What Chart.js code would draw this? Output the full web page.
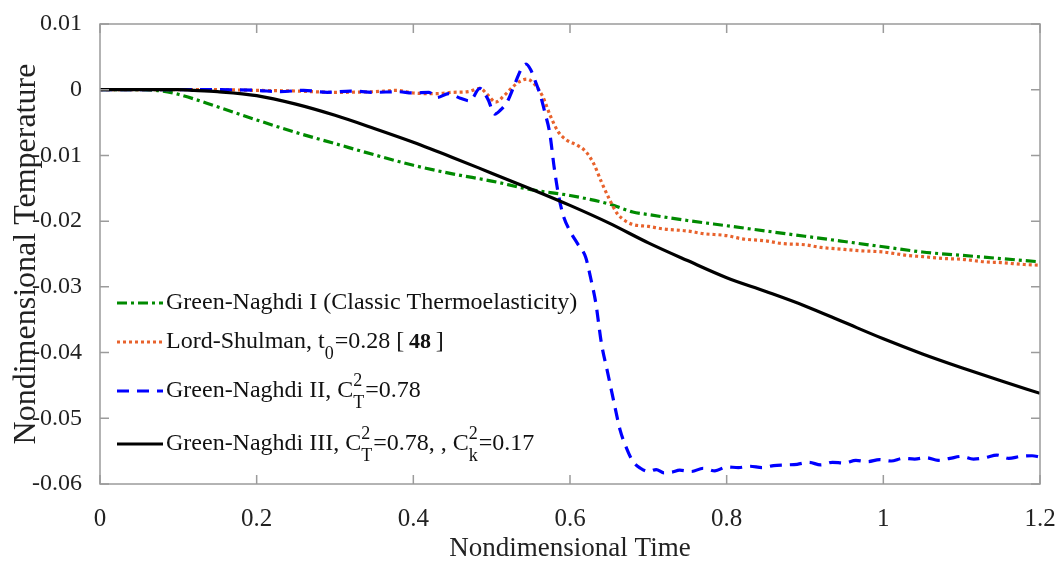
<!DOCTYPE html>
<html>
<head>
<meta charset="utf-8">
<title>Nondimensional Temperature</title>
<script src="https://cdn.jsdelivr.net/npm/chart.js@4"></script>
<style>
  body { margin: 0; background: #fff; }
  #wrap { width: 1058px; height: 563px; position: relative; }
</style>
</head>
<body>
<div id="wrap"><canvas id="tempChart"></canvas></div>
<script>
// Green-Naghdi I (classic thermoelasticity)
const tGreen = [0, 0.05, 0.08, 0.1, 0.15, 0.2, 0.25, 0.3, 0.35, 0.4, 0.45, 0.5, 0.55, 0.6, 0.65, 0.68, 0.7, 0.75, 0.8, 0.85, 0.9, 0.95, 1.0, 1.05, 1.1, 1.15, 1.2];
const vGreen = [0, 0, -0.0002, -0.0007, -0.0026, -0.0046, -0.0065, -0.0082, -0.0099, -0.0115, -0.0128, -0.0139, -0.0152, -0.0161, -0.0174, -0.0186, -0.019, -0.0199, -0.0207, -0.0215, -0.0223, -0.0231, -0.0239, -0.0247, -0.0252, -0.0257, -0.0262];

// Lord-Shulman
const tLS = [0, 0.1, 0.15, 0.2, 0.25, 0.3, 0.35, 0.38, 0.4, 0.43, 0.45, 0.47, 0.485, 0.495, 0.505, 0.515, 0.525, 0.535, 0.545, 0.555, 0.565, 0.575, 0.585, 0.595, 0.61, 0.62, 0.63, 0.64, 0.65, 0.66, 0.67, 0.68, 0.7, 0.72, 0.75, 0.77, 0.8, 0.82, 0.85, 0.87, 0.9, 0.92, 0.95, 0.97, 1.0, 1.03, 1.05, 1.08, 1.1, 1.13, 1.15, 1.18, 1.2];
const vLS = [0, 0, 0, -0.0001, -0.0002, -0.0004, -0.0003, -0.0001, -0.0005, -0.0006, -0.0004, -0.0003, 0.0002, -0.0008, -0.0019, -0.001, 0.0002, 0.0012, 0.0016, 0.0008, -0.001, -0.004, -0.0064, -0.0076, -0.0085, -0.0094, -0.0112, -0.014, -0.0166, -0.0188, -0.0199, -0.0205, -0.0208, -0.0212, -0.0215, -0.0219, -0.0222, -0.0227, -0.023, -0.0234, -0.0236, -0.024, -0.0243, -0.0245, -0.0247, -0.0252, -0.0254, -0.0257, -0.0258, -0.0262, -0.0263, -0.0266, -0.0267];

// Green-Naghdi II
const tGN2 = [0, 0.1, 0.15, 0.2, 0.23, 0.26, 0.29, 0.32, 0.35, 0.38, 0.4, 0.42, 0.43, 0.445, 0.46, 0.472, 0.485, 0.495, 0.504, 0.512, 0.52, 0.53, 0.538, 0.544, 0.55, 0.556, 0.562, 0.568, 0.574, 0.58, 0.585, 0.591, 0.6, 0.61, 0.62, 0.627, 0.633, 0.64, 0.648, 0.656, 0.664, 0.672, 0.68, 0.69, 0.7, 0.71, 0.72, 0.73, 0.74, 0.755, 0.77, 0.785, 0.8, 0.815, 0.83, 0.845, 0.86, 0.875, 0.89, 0.905, 0.92, 0.935, 0.95, 0.965, 0.98, 0.995, 1.01, 1.025, 1.04, 1.055, 1.07, 1.085, 1.1, 1.115, 1.13, 1.145, 1.16, 1.175, 1.19, 1.2];
const vGN2 = [0, 0, 0, -0.0001, -0.0003, -0.0001, -0.0004, -0.0002, -0.0004, -0.0003, -0.0005, -0.0004, -0.0012, -0.0006, -0.0013, -0.0017, 0.0002, -0.0014, -0.0037, -0.003, -0.0018, 0.001, 0.0032, 0.0039, 0.003, 0.0012, -0.0008, -0.0035, -0.0065, -0.012, -0.0158, -0.019, -0.0215, -0.0235, -0.0255, -0.029, -0.0325, -0.0385, -0.043, -0.0475, -0.0518, -0.0545, -0.0565, -0.0576, -0.0581, -0.0578, -0.0583, -0.0582, -0.0579, -0.0581, -0.0576, -0.058, -0.0574, -0.0575, -0.0573, -0.0575, -0.0572, -0.0571, -0.057, -0.0567, -0.0571, -0.0567, -0.0568, -0.0564, -0.0566, -0.0563, -0.0565, -0.0561, -0.0562, -0.056, -0.0564, -0.0561, -0.0558, -0.0562, -0.056, -0.0556, -0.0561, -0.0558, -0.0557, -0.0559];

// Green-Naghdi III
const tGN3 = [0, 0.1, 0.12, 0.15, 0.2, 0.25, 0.3, 0.35, 0.4, 0.45, 0.5, 0.55, 0.6, 0.65, 0.7, 0.75, 0.8, 0.85, 0.9, 0.95, 1.0, 1.05, 1.1, 1.15, 1.2];
const vGN3 = [0, 0, -0.0001, -0.0003, -0.0009, -0.0022, -0.0039, -0.0059, -0.008, -0.0103, -0.0127, -0.0151, -0.0176, -0.0203, -0.0233, -0.026, -0.0286, -0.0307, -0.0329, -0.0354, -0.0379, -0.0402, -0.0423, -0.0443, -0.0462];

const xTicks = [0, 0.2, 0.4, 0.6, 0.8, 1, 1.2];
const yTicks = [0.01, 0, -0.01, -0.02, -0.03, -0.04, -0.05, -0.06];

const SERIF = "'Liberation Serif', 'Times New Roman', serif";
const FRAME = "#9b9b9b";

function pts(ts, vs) {
  return ts.map((t, i) => ({ x: t, y: vs[i] }));
}

// legend rows: plain text, {sub}, {sup, sub} stacked, {bold}
const legendRows = [
  { ds: 0, parts: [{ text: "Green-Naghdi I (Classic Thermoelasticity)" }] },
  { ds: 1, parts: [{ text: "Lord-Shulman, t" }, { sub: "0" }, { text: "=0.28 [\u2009" }, { bold: "48" }, { text: "\u2009]" }] },
  { ds: 2, parts: [{ text: "Green-Naghdi II, C" }, { sup: "2", sub: "T" }, { text: "=0.78" }] },
  { ds: 3, parts: [{ text: "Green-Naghdi III, C" }, { sup: "2", sub: "T" }, { text: "=0.78, , C" }, { sup: "2", sub: "k" }, { text: "=0.17" }] },
];
const legendY = [303, 342, 391, 444];

const frameTicks = {
  id: "frameTicks",
  afterDatasetsDraw(chart) {
    const { ctx, chartArea: a, scales } = chart;
    ctx.save();
    ctx.strokeStyle = FRAME;
    ctx.lineWidth = 1.5;
    ctx.strokeRect(a.left, a.top, a.right - a.left, a.bottom - a.top);
    ctx.beginPath();
    xTicks.forEach((v) => {
      const x = scales.x.getPixelForValue(v);
      ctx.moveTo(x, a.bottom); ctx.lineTo(x, a.bottom - 9);
      ctx.moveTo(x, a.top); ctx.lineTo(x, a.top + 9);
    });
    yTicks.forEach((v) => {
      const y = scales.y.getPixelForValue(v);
      ctx.moveTo(a.left, y); ctx.lineTo(a.left + 9, y);
      ctx.moveTo(a.right, y); ctx.lineTo(a.right - 9, y);
    });
    ctx.stroke();
    ctx.restore();
  },
};

const mathLegend = {
  id: "mathLegend",
  afterDraw(chart) {
    const ctx = chart.ctx;
    ctx.save();
    legendRows.forEach((row, i) => {
      const ds = chart.data.datasets[row.ds];
      const y = legendY[i];
      ctx.strokeStyle = ds.borderColor;
      ctx.lineWidth = ds.borderWidth;
      ctx.setLineDash(ds.borderDash || []);
      ctx.beginPath();
      ctx.moveTo(117, y);
      ctx.lineTo(163, y);
      ctx.stroke();
      ctx.setLineDash([]);

      let x = 166;
      ctx.fillStyle = "#111";
      ctx.textBaseline = "middle";
      row.parts.forEach((p) => {
        if (p.text) {
          ctx.font = "24px " + SERIF;
          ctx.fillText(p.text, x, y);
          x += ctx.measureText(p.text).width;
        } else if (p.bold) {
          ctx.font = "bold 22px " + SERIF;
          ctx.fillText(p.bold, x, y);
          x += ctx.measureText(p.bold).width;
        } else {
          ctx.font = "18px " + SERIF;
          let w = 0;
          if (p.sup) {
            ctx.fillText(p.sup, x, y - 10);
            w = ctx.measureText(p.sup).width;
          }
          if (p.sub) {
            ctx.fillText(p.sub, x, y + 12);
            w = Math.max(w, ctx.measureText(p.sub).width);
          }
          x += w + 1;
        }
      });
    });
    ctx.restore();
  },
};

new Chart(document.getElementById("tempChart"), {
  type: "line",
  data: {
    datasets: [
      {
        label: "Green-Naghdi I (Classic Thermoelasticity)",
        data: pts(tGreen, vGreen),
        borderColor: "#008a00",
        borderWidth: 3.2,
        borderDash: [10, 4, 3, 4],
        cubicInterpolationMode: "monotone",
        order: 3,
      },
      {
        label: "Lord-Shulman, t0=0.28 [48]",
        data: pts(tLS, vLS),
        borderColor: "#e8622c",
        borderWidth: 3.2,
        borderDash: [3, 3],
        cubicInterpolationMode: "monotone",
        order: 2,
      },
      {
        label: "Green-Naghdi II, CT2=0.78",
        data: pts(tGN2, vGN2),
        borderColor: "#0000ff",
        borderWidth: 3.2,
        borderDash: [12, 8],
        cubicInterpolationMode: "monotone",
        order: 1,
      },
      {
        label: "Green-Naghdi III, CT2=0.78, , Ck2=0.17",
        data: pts(tGN3, vGN3),
        borderColor: "#000000",
        borderWidth: 3.2,
        cubicInterpolationMode: "monotone",
        order: 0,
      },
    ],
  },
  options: {
    responsive: true,
    maintainAspectRatio: false,
    animation: false,
    elements: { point: { radius: 0 } },
    layout: { padding: { left: 0, top: 24, right: 18, bottom: 0 } },
    plugins: { legend: { display: false }, tooltip: { enabled: false } },
    scales: {
      x: {
        type: "linear",
        min: 0,
        max: 1.2,
        grid: { display: false },
        border: { display: false },
        afterFit: (s) => {
          s.height = 79;
          s.paddingLeft = 0;
          s.paddingRight = 0;
        },
        afterBuildTicks: (s) => { s.ticks = xTicks.map((v) => ({ value: v })); },
        ticks: {
          padding: 12,
          color: "#222",
          font: { family: SERIF, size: 25 },
          callback: (v) => Number(v.toFixed(1)).toString(),
        },
        title: {
          display: true,
          text: "Nondimensional Time",
          color: "#222",
          font: { family: SERIF, size: 27, lineHeight: 1 },
          padding: { top: 0, bottom: 1 },
        },
      },
      y: {
        min: -0.06,
        max: 0.01,
        grid: { display: false },
        border: { display: false },
        afterFit: (s) => {
          s.width = 100;
          s.paddingTop = 0;
          s.paddingBottom = 0;
        },
        afterBuildTicks: (s) => { s.ticks = yTicks.map((v) => ({ value: v })); },
        ticks: {
          padding: 10,
          color: "#222",
          font: { family: SERIF, size: 24 },
          callback: (v) => Number(v.toFixed(2)).toString(),
        },
        title: {
          display: true,
          text: "Nondimensional Temperature",
          color: "#222",
          font: { family: SERIF, size: 32, lineHeight: 1 },
          padding: { top: 11, bottom: 0 },
        },
      },
    },
  },
  plugins: [frameTicks, mathLegend],
});
</script>
</body>
</html>
